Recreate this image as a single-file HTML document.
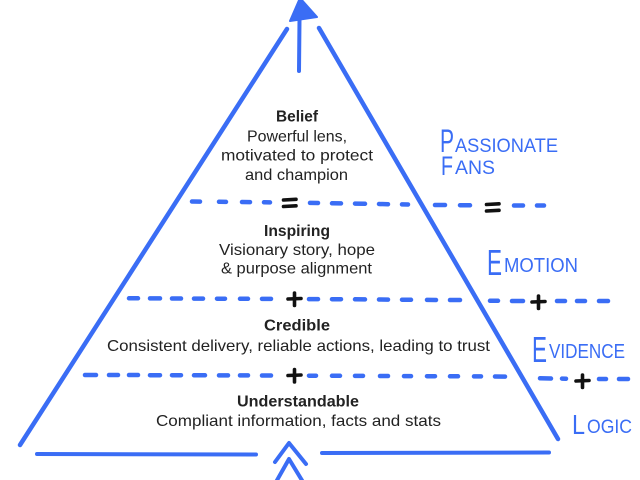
<!DOCTYPE html>
<html>
<head>
<meta charset="utf-8">
<style>
html,body{margin:0;padding:0;background:#fff;}
svg{display:block;}
.t{font-family:"Liberation Sans",sans-serif;fill:#222;font-size:16px;}
.b{font-family:"Liberation Sans",sans-serif;fill:#222;font-size:15.5px;font-weight:bold;}
.h{font-family:"Liberation Sans",sans-serif;fill:#3a6df5;}
</style>
</head>
<body>
<svg width="640" height="480" viewBox="0 0 640 480" xmlns="http://www.w3.org/2000/svg">
<g stroke="#3a6df5" stroke-linecap="round" fill="none">
  <!-- triangle sides -->
  <line x1="287" y1="29" x2="20" y2="445" stroke-width="4.5"/>
  <line x1="319" y1="28" x2="558" y2="439" stroke-width="4.5"/>
  <!-- apex arrow shaft -->
  <line x1="299.5" y1="20" x2="299" y2="71" stroke-width="4"/>
  <!-- bottom line -->
  <line x1="37" y1="454" x2="256" y2="454.5" stroke-width="4"/>
  <line x1="322" y1="453" x2="549" y2="452.5" stroke-width="4"/>
  <!-- chevrons -->
  <polyline points="275,462 289,443 306,464" stroke-width="4" stroke-linejoin="round"/>
  <polyline points="276,482 289,459 303,482" stroke-width="4" stroke-linejoin="round"/>
  <!-- dashed line 1 -->
  <g stroke-width="4.5">
    <line x1="192" y1="201.5" x2="200" y2="201.6"/>
    <line x1="219" y1="201.8" x2="226" y2="201.9"/>
    <line x1="242" y1="202" x2="250" y2="202.1"/>
    <line x1="264" y1="202.3" x2="270" y2="202.4"/>
    <line x1="310" y1="202.9" x2="318" y2="203"/>
    <line x1="332" y1="203.3" x2="341" y2="203.4"/>
    <line x1="355" y1="203.6" x2="365" y2="203.8"/>
    <line x1="379" y1="204" x2="388" y2="204.2"/>
    <line x1="402" y1="204.4" x2="408" y2="204.5"/>
    <line x1="435" y1="205" x2="445" y2="205"/>
    <line x1="460" y1="205.2" x2="470" y2="205.3"/>
    <line x1="514" y1="205.5" x2="523" y2="205.5"/>
    <line x1="537" y1="205.5" x2="544" y2="205.5"/>
  </g>
  <!-- dashed line 2 -->
  <g stroke-width="4.5">
    <line x1="129" y1="298.3" x2="138" y2="298.3"/>
    <line x1="150" y1="298.4" x2="160" y2="298.4"/>
    <line x1="172" y1="298.5" x2="181" y2="298.5"/>
    <line x1="194" y1="298.6" x2="203" y2="298.6"/>
    <line x1="217" y1="298.7" x2="225" y2="298.7"/>
    <line x1="240" y1="298.8" x2="248" y2="298.8"/>
    <line x1="262" y1="298.9" x2="271" y2="298.9"/>
    <line x1="309" y1="299.1" x2="318" y2="299.1"/>
    <line x1="332" y1="299.2" x2="341" y2="299.2"/>
    <line x1="355" y1="299.3" x2="365" y2="299.4"/>
    <line x1="379" y1="299.5" x2="388" y2="299.6"/>
    <line x1="402" y1="299.7" x2="411" y2="299.8"/>
    <line x1="427" y1="299.9" x2="436" y2="300"/>
    <line x1="450" y1="300" x2="460" y2="300"/>
    <line x1="490" y1="300.8" x2="498" y2="300.8"/>
    <line x1="512" y1="301" x2="523" y2="301"/>
    <line x1="557" y1="301" x2="565" y2="301"/>
    <line x1="577" y1="301" x2="585" y2="301"/>
    <line x1="599" y1="301" x2="608" y2="301"/>
  </g>
  <!-- dashed line 3 -->
  <g stroke-width="4.5">
    <line x1="85" y1="375" x2="96" y2="375"/>
    <line x1="109" y1="375" x2="118" y2="375"/>
    <line x1="129" y1="375" x2="138" y2="375"/>
    <line x1="150" y1="375.2" x2="160" y2="375.2"/>
    <line x1="172" y1="375.2" x2="181" y2="375.2"/>
    <line x1="194" y1="375.3" x2="205" y2="375.3"/>
    <line x1="219" y1="375.4" x2="228" y2="375.4"/>
    <line x1="240" y1="375.4" x2="248" y2="375.4"/>
    <line x1="262" y1="375.5" x2="271" y2="375.5"/>
    <line x1="309" y1="375.7" x2="316" y2="375.7"/>
    <line x1="332" y1="375.8" x2="340" y2="375.8"/>
    <line x1="355" y1="375.9" x2="363" y2="375.9"/>
    <line x1="380" y1="376" x2="388" y2="376"/>
    <line x1="404" y1="376.1" x2="411" y2="376.1"/>
    <line x1="427" y1="376.2" x2="435" y2="376.2"/>
    <line x1="450" y1="376.3" x2="458" y2="376.3"/>
    <line x1="474" y1="376.4" x2="481" y2="376.4"/>
    <line x1="495" y1="376.5" x2="505" y2="376.6"/>
    <line x1="540" y1="378.3" x2="551" y2="378.5"/>
    <line x1="562" y1="378.6" x2="566" y2="378.7"/>
    <line x1="599" y1="379" x2="606" y2="379"/>
    <line x1="619" y1="379" x2="628" y2="379"/>
  </g>
</g>
<!-- apex arrowhead -->
<polygon points="300,-2 290,21 317,17" fill="#3a6df5" stroke="#3a6df5" stroke-width="2" stroke-linejoin="round"/>

<!-- plus and equals signs -->
<g stroke="#111" stroke-width="3.6" stroke-linecap="round" fill="none">
  <line x1="283.5" y1="200" x2="296" y2="199.3"/>
  <line x1="283.5" y1="206.5" x2="296" y2="205.8"/>
  <line x1="486.5" y1="204.5" x2="499" y2="203.8"/>
  <line x1="486.5" y1="211" x2="499" y2="210.3"/>
  <line x1="288" y1="299" x2="301" y2="298.5"/>
  <line x1="294.5" y1="293" x2="294.5" y2="305.5"/>
  <line x1="532" y1="302" x2="545" y2="301.5"/>
  <line x1="538.5" y1="296" x2="538.5" y2="308.5"/>
  <line x1="288" y1="375.5" x2="301" y2="375"/>
  <line x1="294.5" y1="369.5" x2="294.5" y2="382"/>
  <line x1="576" y1="381" x2="589" y2="380.5"/>
  <line x1="582.5" y1="375" x2="582.5" y2="387.5"/>
</g>

<!-- pyramid text -->
<text class="b" x="276" y="121.5" textLength="42" lengthAdjust="spacingAndGlyphs">Belief</text>
<text class="t" x="247" y="141.5" textLength="100" lengthAdjust="spacingAndGlyphs">Powerful lens,</text>
<text class="t" x="221" y="160.7" textLength="152" lengthAdjust="spacingAndGlyphs">motivated to protect</text>
<text class="t" x="245" y="180" textLength="103" lengthAdjust="spacingAndGlyphs">and champion</text>

<text class="b" x="264" y="236" textLength="66" lengthAdjust="spacingAndGlyphs">Inspiring</text>
<text class="t" x="219" y="255" textLength="156" lengthAdjust="spacingAndGlyphs">Visionary story, hope</text>
<text class="t" x="221" y="273.5" textLength="151" lengthAdjust="spacingAndGlyphs">&amp; purpose alignment</text>

<text class="b" x="264" y="330.7" textLength="66" lengthAdjust="spacingAndGlyphs">Credible</text>
<text class="t" x="107" y="351" textLength="383" lengthAdjust="spacingAndGlyphs">Consistent delivery, reliable actions, leading to trust</text>

<text class="b" x="237" y="406.7" textLength="122" lengthAdjust="spacingAndGlyphs">Understandable</text>
<text class="t" x="156" y="426" textLength="285" lengthAdjust="spacingAndGlyphs">Compliant information, facts and stats</text>

<!-- handwritten labels -->
<text class="h" x="440" y="152" font-size="32" textLength="14" lengthAdjust="spacingAndGlyphs">P</text>
<text class="h" x="455" y="152" font-size="19" textLength="103" lengthAdjust="spacingAndGlyphs">ASSIONATE</text>
<text class="h" x="441" y="175" font-size="27" textLength="12" lengthAdjust="spacingAndGlyphs">F</text>
<text class="h" x="455" y="174" font-size="19" textLength="40" lengthAdjust="spacingAndGlyphs">ANS</text>

<text class="h" x="487" y="275" font-size="36" textLength="15" lengthAdjust="spacingAndGlyphs">E</text>
<text class="h" x="504" y="272" font-size="20" textLength="74" lengthAdjust="spacingAndGlyphs">MOTION</text>

<text class="h" x="532" y="362" font-size="36" textLength="15" lengthAdjust="spacingAndGlyphs">E</text>
<text class="h" x="549" y="358" font-size="20" textLength="76" lengthAdjust="spacingAndGlyphs">VIDENCE</text>

<text class="h" x="572" y="434" font-size="28" textLength="13" lengthAdjust="spacingAndGlyphs">L</text>
<text class="h" x="587" y="433" font-size="19" textLength="45" lengthAdjust="spacingAndGlyphs">OGIC</text>
</svg>
</body>
</html>
